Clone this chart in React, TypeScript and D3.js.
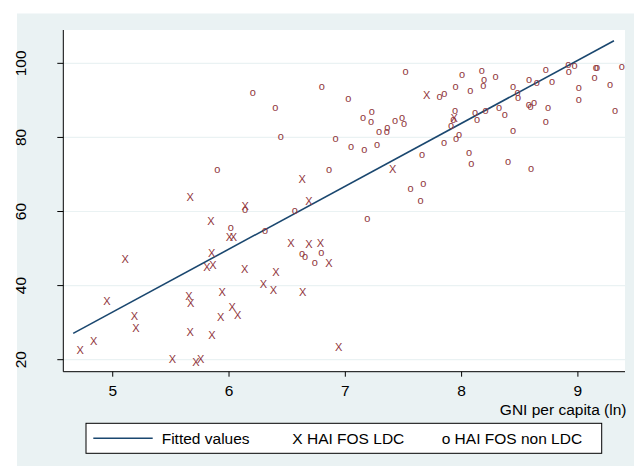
import React from 'react';
import * as d3 from 'd3';

// HAI FOS vs ln GNI per capita
const ldcGni = [5.665, 6.139, 6.688, 5.845, 6.003, 6.037, 5.108, 5.851, 5.811, 5.862, 6.135, 6.533, 6.688, 6.785, 6.86, 6.404, 6.295, 6.381, 6.634, 5.942, 5.656, 5.671, 4.951, 6.028, 6.075, 5.929, 5.186, 5.2, 5.665, 5.854, 4.837, 4.721, 5.513, 5.716, 5.757, 6.943, 6.628, 7.7, 7.408, 7.937];
const ldcHai = [63.8, 61.5, 62.9, 57.5, 53.2, 53.2, 47.2, 48.8, 45.1, 45.5, 44.5, 51.5, 51.2, 51.6, 46.1, 43.6, 40.5, 38.8, 38.2, 38.2, 37.3, 35.2, 35.8, 34.2, 32.1, 31.4, 31.7, 28.5, 27.5, 26.7, 25.1, 22.6, 20.1, 19.3, 20.1, 23.4, 68.8, 91.4, 71.5, 85.2];

const nonLdcGni = [6.204, 6.398, 6.445, 6.797, 5.899, 6.86, 6.917, 6.139, 6.565, 6.015, 6.31, 6.628, 6.653, 6.737, 6.794, 7.189, 7.648, 7.562, 7.671, 7.519, 7.026, 7.811, 7.851, 8.003, 8.173, 8.193, 8.187, 8.293, 7.949, 8.075, 8.442, 8.58, 8.646, 8.723, 8.777, 8.482, 8.485, 8.918, 8.972, 8.921, 9.153, 9.164, 9.377, 9.144, 9.007, 9.276, 9.007, 9.319, 8.743, 8.723, 8.577, 8.594, 8.623, 8.442, 8.322, 8.371, 8.207, 8.132, 8.115, 7.943, 7.929, 7.909, 7.978, 7.952, 7.849, 7.66, 8.064, 8.084, 8.399, 8.597, 7.049, 7.163, 7.273, 7.152, 7.227, 7.221, 7.29, 7.356, 7.361, 7.427, 7.488, 7.505];
const nonLdcHai = [92.0, 87.9, 80.1, 93.5, 71.2, 71.3, 79.6, 60.5, 60.0, 55.5, 54.8, 48.6, 47.7, 46.1, 48.8, 57.9, 62.9, 66.1, 67.4, 97.7, 90.4, 90.8, 91.7, 96.8, 97.8, 95.4, 93.8, 96.2, 93.6, 92.5, 93.6, 95.4, 94.6, 98.1, 94.9, 92.0, 90.5, 99.6, 99.3, 97.7, 98.7, 98.7, 99.0, 96.1, 93.4, 94.2, 90.1, 87.1, 87.8, 84.1, 88.8, 88.1, 89.3, 81.7, 87.8, 85.9, 87.0, 84.7, 86.6, 87.0, 84.8, 83.0, 80.6, 79.6, 78.5, 75.2, 75.8, 72.8, 73.4, 71.5, 77.4, 76.7, 77.9, 85.2, 86.9, 84.2, 81.5, 81.5, 82.5, 84.5, 85.2, 83.6];

// fitted line ends
const fittedGni = [4.66, 9.31];
const fittedHai = [27.1, 106.1];

const xTicks = [5, 6, 7, 8, 9];
const yTicks = [20, 40, 60, 80, 100];

const W = 634;
const H = 466;
const FONT = 'Liberation Sans, Arial, Helvetica, sans-serif';
const NAVY = '#1a476f';
const MAROON = '#90353b';
const BG = '#eaf2f3';

const App = () => {
  const x = d3.scaleLinear().domain([4.575, 9.405]).range([63.3, 625]);
  const y = d3.scaleLinear().domain([16.76, 109.0]).range([371.7, 30]);
  const [x0, x1] = x.range();
  const [y0, y1] = y.range();

  const fitLine = d3.line<number>()
    .x((d) => x(fittedGni[d]))
    .y((d) => y(fittedHai[d]));

  return (
    <div style={{ position: 'absolute', left: 0, top: 0 }}>
      <svg width={W} height={H} style={{ display: 'block', fontFamily: FONT }}>
        <rect x={0} y={0} width={W} height={H} fill="#fff" />
        <rect x={17} y={13.5} width={W - 17} height={H - 13.5} fill={BG} />
        <rect x={x0} y={y1} width={x1 - x0} height={y0 - y1} fill="#fff" />

        {yTicks.map((t) => (
          <line key={'g' + t} x1={x0} x2={x1} y1={y(t)} y2={y(t)} stroke={BG} strokeWidth={1.2} />
        ))}

        {/* axes */}
        <line x1={x0} x2={x0} y1={y1} y2={y0} stroke="#000" strokeWidth={1} />
        <line x1={x0} x2={x1} y1={y0} y2={y0} stroke="#000" strokeWidth={1} />
        {yTicks.map((t) => (
          <g key={'y' + t}>
            <line x1={x0 - 6} x2={x0} y1={y(t)} y2={y(t)} stroke="#000" />
            <text transform={`translate(25.5,${y(t)}) rotate(-90)`} textAnchor="middle" fontSize={15.5} fill="#000">
              {t}
            </text>
          </g>
        ))}
        {xTicks.map((t) => (
          <g key={'x' + t}>
            <line x1={x(t)} x2={x(t)} y1={y0} y2={y0 + 5} stroke="#000" />
            <text x={x(t)} y={395.5} textAnchor="middle" fontSize={15.5} fill="#000">
              {t}
            </text>
          </g>
        ))}
        <text x={626.5} y={415} textAnchor="end" fontSize={15.5} fill="#000">
          GNI per capita (ln)
        </text>

        {/* fitted values */}
        <path d={fitLine([0, 1]) || ''} fill="none" stroke={NAVY} strokeWidth={1.6} />

        {/* markers */}
        {ldcGni.map((g, i) => (
          <text key={'l' + i} x={x(g)} y={y(ldcHai[i]) + 3.9} textAnchor="middle" fontSize={11} fill={MAROON}>
            X
          </text>
        ))}
        {nonLdcGni.map((g, i) => (
          <text key={'n' + i} x={x(g)} y={y(nonLdcHai[i]) + 2.9} textAnchor="middle" fontSize={11} fill={MAROON}>
            o
          </text>
        ))}

        {/* legend */}
        <rect x={86} y={423.3} width={515.7} height={30} fill="#fff" stroke="#000" strokeWidth={1} />
        <line x1={93.3} x2={152.7} y1={438.3} y2={438.3} stroke={NAVY} strokeWidth={1.6} />
        <text x={161.7} y={443.6} fontSize={15.5} fill="#000">Fitted values</text>
        <text x={292.3} y={443.6} fontSize={15.5} fill="#000">X HAI FOS LDC</text>
        <text x={441.7} y={443.6} fontSize={15.5} fill="#000">o HAI FOS non LDC</text>
      </svg>
    </div>
  );
};

export default App;
